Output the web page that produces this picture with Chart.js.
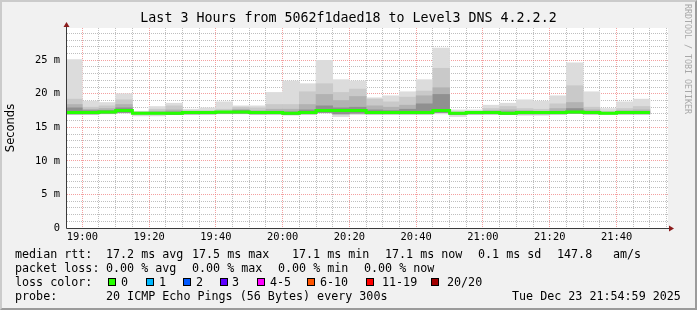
<!DOCTYPE html>
<html><head><meta charset="utf-8">
<script src="https://cdn.jsdelivr.net/npm/chart.js@4.4.1/dist/chart.umd.min.js"></script>
<style>
html,body{margin:0;padding:0;}
body{width:697px;height:310px;overflow:hidden;background:#f1f1f1;}
#wrap{position:relative;width:697px;height:310px;}
#frame{position:absolute;left:0;top:0;width:697px;height:310px;box-sizing:border-box;border-top:2px solid #cbcbcb;border-left:2px solid #cbcbcb;border-right:2px solid #9b9b9b;border-bottom:2px solid #9b9b9b;pointer-events:none;}
canvas{position:absolute;left:0;top:0;}
.t{position:absolute;font-family:'DejaVu Sans Mono',monospace;font-size:11.7px;line-height:14px;white-space:pre;color:#000;}
.sw{position:absolute;top:278px;width:6px;height:6px;border:1px solid #000;}
#wm{position:absolute;left:683px;top:4px;writing-mode:vertical-rl;font-family:'DejaVu Sans Mono',monospace;font-size:8.3px;color:#a8a8a8;white-space:pre;line-height:9px;}
</style></head>
<body>
<div id="wrap">
<canvas id="c" width="697" height="310"></canvas>
<div id="wm">RRDTOOL / TOBI OETIKER</div>
<div class="t" style="left:15px;top:247px">median rtt:</div>
<div class="t" style="left:106px;top:247px">17.2 ms avg</div>
<div class="t" style="left:192px;top:247px">17.5 ms max</div>
<div class="t" style="left:292px;top:247px">17.1 ms min</div>
<div class="t" style="left:385px;top:247px">17.1 ms now</div>
<div class="t" style="left:478px;top:247px">0.1 ms sd</div>
<div class="t" style="left:557px;top:247px">147.8</div>
<div class="t" style="left:613px;top:247px">am/s</div>
<div class="t" style="left:15px;top:261px">packet loss:</div>
<div class="t" style="left:106px;top:261px">0.00 % avg</div>
<div class="t" style="left:192px;top:261px">0.00 % max</div>
<div class="t" style="left:278px;top:261px">0.00 % min</div>
<div class="t" style="left:364px;top:261px">0.00 % now</div>
<div class="t" style="left:15px;top:275px">loss color:</div>
<div id="lossLegend"></div>
<div class="t" style="left:15px;top:289px">probe:</div>
<div class="t" style="left:106px;top:289px">20 ICMP Echo Pings (56 Bytes) every 300s</div>
<div class="t" style="left:512px;top:289px">Tue Dec 23 21:54:59 2025</div>
<div id="frame"></div>
</div>
<script>
// ---- data ----
const chartTitle = 'Last 3 Hours from 5062f1daed18 to Level3 DNS 4.2.2.2';
const axisStart = '18:55:25';
const axisEnd = '21:55:25';
const stepMinutes = 5;
const slotEnd = ['19:00','19:05','19:10','19:15','19:20','19:25','19:30','19:35','19:40','19:45','19:50','19:55',
  '20:00','20:05','20:10','20:15','20:20','20:25','20:30','20:35','20:40','20:45','20:50','20:55',
  '21:00','21:05','21:10','21:15','21:20','21:25','21:30','21:35','21:40','21:45','21:50'];
const pingMax = [25.1,18.9,18.7,20.0,17.4,18.1,18.6,17.7,17.9,18.8,18.2,18.2,20.2,21.9,21.5,25.0,22.1,21.9,19.4,19.7,20.3,22.1,26.8,17.6,17.6,18.3,18.6,19.1,18.9,19.7,24.6,20.3,17.8,18.8,19.2];
const pingHi2 = [19.2,18.0,18.2,19.1,17.3,17.7,18.2,17.5,17.5,17.7,18.0,17.9,18.4,18.4,20.3,21.5,20.2,20.7,19.2,18.8,19.5,20.4,23.8,17.3,17.4,17.8,18.1,17.8,17.7,18.5,21.2,18.0,17.4,17.8,18.1];
const pingHi3 = [18.4,17.7,17.8,18.4,17.2,17.4,17.6,17.3,17.3,17.4,17.7,17.5,17.7,17.7,18.4,19.9,19.0,19.6,18.2,18.0,18.3,19.7,20.9,17.2,17.2,17.5,17.6,17.5,17.4,17.8,18.7,17.6,17.2,17.5,17.6];
const pingHi4 = [17.9,17.5,17.5,17.9,17.1,17.2,17.3,17.2,17.2,17.3,17.5,17.3,17.4,17.3,17.6,18.2,17.9,18.0,17.6,17.5,17.7,18.5,19.9,17.1,17.1,17.3,17.3,17.3,17.2,17.4,17.8,17.4,17.1,17.3,17.3];
const pingLow = [17.0,17.0,17.1,17.2,17.0,17.0,16.9,17.0,17.0,17.1,17.1,17.0,17.0,16.9,17.0,17.2,17.0,17.1,17.0,17.0,17.0,17.0,17.2,16.9,17.0,17.0,16.9,17.0,17.0,17.0,17.1,17.0,17.0,17.0,17.0];
const pingMin = [16.9,16.9,17.0,17.1,16.7,16.7,16.9,16.9,17.0,17.0,17.0,16.9,17.0,16.8,17.0,17.1,16.6,16.9,17.0,17.0,17.0,17.0,17.0,16.6,16.9,17.0,17.0,16.8,16.8,17.0,17.1,17.0,16.9,17.0,17.0];
const medianRtt = [17.2,17.2,17.3,17.5,17.1,17.1,17.1,17.2,17.2,17.3,17.3,17.2,17.2,17.1,17.2,17.5,17.5,17.5,17.2,17.2,17.2,17.2,17.5,17.1,17.2,17.2,17.1,17.2,17.2,17.2,17.3,17.2,17.1,17.2,17.2];
const yMax = 29.8;
const lossLabels = ['0','1','2','3','4-5','6-10','11-19','20/20'];
const lossColors = ['#26ff00','#00b8ff','#0059ff','#5e00ff','#ff00ff','#ff5500','#ff0000','#a10000'];
const lossSwatchX = [108,146,183,220,257,307,366,431];
const lossLabelX = [121,159,196,232,270,320,382,447];

// legend swatches
const ll = document.getElementById('lossLegend');
lossLabels.forEach((l,i)=>{
  const s = document.createElement('div'); s.className='sw'; s.style.left=lossSwatchX[i]+'px'; s.style.background=lossColors[i]; ll.appendChild(s);
  const t = document.createElement('div'); t.className='t'; t.style.left=lossLabelX[i]+'px'; t.style.top='275px'; t.textContent=l; ll.appendChild(t);
});

const toMin = s => { const p = s.split(':').map(Number); return p[0]*60 + p[1] + (p[2]||0)/60; };
const xMin = toMin(axisStart), xMax = toMin(axisEnd);
const centers = slotEnd.map(t => toMin(t) - stepMinutes/2);
const band = (lo, hi) => centers.map((x,i)=>({x, y:[lo[i], hi[i]]}));
const medPts = [{x: toMin(slotEnd[0]) - stepMinutes, y: medianRtt[0]}]
  .concat(slotEnd.map((t,i)=>({x: toMin(t), y: medianRtt[i]})));
const fmt = v => { const h = Math.floor(v/60), m = Math.round(v%60); return String(h).padStart(2,'0')+':'+String(m).padStart(2,'0'); };

const minorC = 'rgba(170,170,170,0.75)';
const majorC = 'rgba(240,120,120,0.7)';
const mono = "'DejaVu Sans Mono', monospace";

const framePlugin = {
  id:'frame',
  beforeDraw(c){ const a=c.chartArea, x=c.ctx; x.save(); x.fillStyle='#ffffff'; x.fillRect(a.left,a.top,a.right-a.left,a.bottom-a.top); x.restore(); },
  afterDraw(c){
    const a=c.chartArea, x=c.ctx;
    const lx = Math.round(a.left)-0.5, by = Math.round(a.bottom)+0.5;
    x.save();
    x.strokeStyle='#3a3a3a'; x.lineWidth=1;
    x.beginPath(); x.moveTo(lx, by); x.lineTo(lx, a.top-4); x.stroke();
    x.beginPath(); x.moveTo(lx, by); x.lineTo(a.right+3, by); x.stroke();
    x.fillStyle='#8b1c1c';
    x.beginPath(); x.moveTo(lx, a.top-6); x.lineTo(lx-3, a.top-1); x.lineTo(lx+3, a.top-1); x.closePath(); x.fill();
    x.beginPath(); x.moveTo(a.right+6, by); x.lineTo(a.right+1, by-3); x.lineTo(a.right+1, by+3); x.closePath(); x.fill();
    x.restore();
  }
};

new Chart(document.getElementById('c'), {
  type:'bar',
  data:{ datasets:[
    {type:'line', data:medPts, borderColor:'#26ff00', borderWidth:3, pointRadius:0, stepped:'after', clip:0, order:0},
    {data:band(pingLow, pingHi4), backgroundColor:'#909090', order:1, clip:0},
    {data:band(pingLow, pingHi3), backgroundColor:'#b2b2b2', order:2, clip:0},
    {data:band(pingLow, pingHi2), backgroundColor:'#c9c9c9', order:3, clip:0},
    {data:band(pingMin, pingMax), backgroundColor:'#dcdcdc', order:4, clip:0}
  ]},
  options:{
    responsive:false, animation:false, devicePixelRatio:1,
    datasets:{bar:{grouped:false, barPercentage:1, categoryPercentage:1, borderWidth:0}},
    layout:{padding:{left:0,right:0,top:0,bottom:0}},
    plugins:{
      legend:{display:false}, tooltip:{enabled:false},
      title:{display:true, text:chartTitle, color:'#000', font:{family:mono, size:13.3, weight:'normal', lineHeight:'14px'}, padding:{top:12,bottom:2}}
    },
    scales:{
      x:{type:'linear', min:xMin, max:xMax, offset:false,
        grid:{offset:false, drawTicks:false, lineWidth:1, color:c=> (c.tick && Math.round(c.tick.value)%20===0) ? majorC : minorC},
        border:{display:false, dash:[1,1]},
        ticks:{autoSkip:false, maxRotation:0, minRotation:0, padding:3, color:'#000', font:{family:mono, size:10.4},
          callback:v=> (Math.round(v)%20===0) ? fmt(v) : ''},
        afterBuildTicks:s=>{ const t=[]; for(let v=Math.ceil(s.min/stepMinutes)*stepMinutes; v<=s.max; v+=stepMinutes) t.push({value:v}); s.ticks=t; },
        afterFit:s=>{ s.height = 82; }
      },
      y:{type:'linear', min:0, max:yMax,
        grid:{drawTicks:false, lineWidth:1, color:c=> (c.tick && Math.round(c.tick.value)%5===0) ? majorC : minorC},
        border:{display:false, dash:[1,1]},
        ticks:{autoSkip:false, padding:7, color:'#000', font:{family:mono, size:10.4},
          callback:v=> (v%5===0) ? (v===0 ? '0' : v+' m') : ''},
        afterBuildTicks:s=>{ const t=[]; for(let v=0; v<=Math.floor(s.max); v++) t.push({value:v}); s.ticks=t; },
        title:{display:true, text:'Seconds', color:'#000', font:{family:"'DejaVu Sans', sans-serif", size:11.5, weight:'normal'}, padding:{top:4,bottom:0}},
        afterFit:s=>{ s.width = 67; }
      },
      yRight:{type:'linear', position:'right', display:true, min:0, max:yMax,
        grid:{display:false, drawTicks:false}, border:{display:false}, ticks:{display:false},
        afterFit:s=>{ s.width = 29; }
      }
    }
  },
  plugins:[framePlugin]
});
</script>
</body></html>
